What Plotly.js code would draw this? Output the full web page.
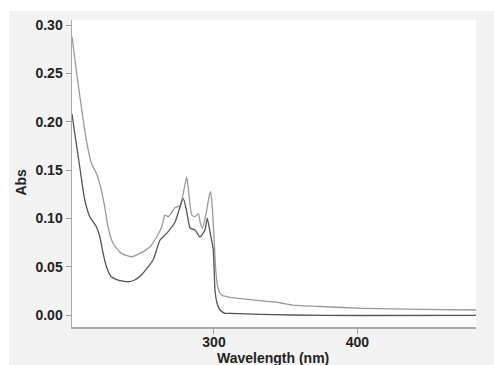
<!DOCTYPE html>
<html>
<head>
<meta charset="utf-8">
<script src="https://cdn.plot.ly/plotly-3.0.1.min.js"></script>
<style>
html, body { margin: 0; padding: 0; background: #ffffff; width: 494px; height: 365px; overflow: hidden; }
#chart { position: absolute; left: 9px; top: 11px; width: 485px; height: 354px; }
</style>
</head>
<body>
<div id="chart"></div>
<script>
// Upper (light grey) spectrum
const upperWavelength = [201, 204, 207.5, 211, 214.5, 218, 221.5, 223.8, 226.1, 229.6, 235.4, 242.4, 248.4, 255.4, 260.1, 263.6, 265.8, 268.1, 272.8, 276.3, 278.6, 281.0, 282.6, 284.5, 286.8, 289.1, 290.5, 292.0, 294.5, 296.5, 297.7, 299.0, 300.2, 301.3, 302.5, 304.0, 306.0, 309.0, 311.1, 325, 346, 355, 374, 404, 444, 483];
const upperAbs = [0.288, 0.253, 0.2155, 0.181, 0.157, 0.1466, 0.129, 0.112, 0.0913, 0.0742, 0.0638, 0.0603, 0.0638, 0.0707, 0.081, 0.0913, 0.1034, 0.1017, 0.111, 0.113, 0.126, 0.1428, 0.124, 0.1034, 0.1017, 0.105, 0.095, 0.090, 0.105, 0.122, 0.1276, 0.108, 0.075, 0.045, 0.030, 0.023, 0.020, 0.019, 0.0183, 0.016, 0.0127, 0.0103, 0.0088, 0.0069, 0.0059, 0.0052];

// Lower (dark grey) spectrum
const lowerWavelength = [201, 202.9, 206.4, 209.9, 213.4, 218.0, 220.4, 222.7, 225.0, 228.4, 233.1, 240.1, 244.7, 249.4, 257.5, 262.4, 267.0, 272.8, 275.5, 278.6, 281.0, 283.3, 286.8, 290.2, 293.7, 295.3, 297.2, 299.5, 300.7, 302.1, 304.2, 307.7, 311.1, 332, 353, 402, 483];
const lowerAbs = [0.208, 0.188, 0.1534, 0.119, 0.1017, 0.0913, 0.081, 0.0638, 0.050, 0.0396, 0.0362, 0.0344, 0.0362, 0.0414, 0.0569, 0.0776, 0.0845, 0.096, 0.108, 0.1207, 0.1069, 0.090, 0.0879, 0.0807, 0.0879, 0.1003, 0.0862, 0.0672, 0.0259, 0.0124, 0.0052, 0.0018, 0.0016, 0.0007, 0.0, -0.0005, -0.0003];

const xTicks = [300, 400];
const yTicks = [0.00, 0.05, 0.10, 0.15, 0.20, 0.25, 0.30];

const traces = [
  { x: upperWavelength, y: upperAbs, mode: 'lines', line: { color: '#9a9a9a', width: 1.3, shape: 'spline', smoothing: 0.5 }, hoverinfo: 'skip' },
  { x: lowerWavelength, y: lowerAbs, mode: 'lines', line: { color: '#555555', width: 1.3, shape: 'spline', smoothing: 0.5 }, hoverinfo: 'skip' }
];

const tickFont = { family: 'Liberation Sans, Arial, sans-serif', size: 14, color: '#222222', weight: 'bold' };

const layout = {
  width: 485, height: 354,
  margin: { l: 63, r: 18, t: 9, b: 38, pad: 0 },
  paper_bgcolor: '#f3f3f3',
  plot_bgcolor: '#ffffff',
  showlegend: false,
  xaxis: {
    range: [201.0, 482.7],
    tickvals: xTicks,
    ticktext: xTicks.map(String),
    ticks: 'outside', ticklen: 5, tickwidth: 1, tickcolor: '#999999',
    ticklabelstandoff: -3,
    showline: true, linecolor: '#aaaaaa', linewidth: 1.5,
    showgrid: false, zeroline: false,
    tickfont: tickFont
  },
  yaxis: {
    range: [-0.0124, 0.3052],
    tickvals: yTicks,
    ticktext: yTicks.map(v => v.toFixed(2)),
    ticks: 'outside', ticklen: 5, tickwidth: 1, tickcolor: '#999999',
    showline: true, linecolor: '#aaaaaa', linewidth: 1.5,
    showgrid: false, zeroline: false,
    tickfont: tickFont
  },
  annotations: [
    { text: 'Abs', xref: 'paper', yref: 'paper', x: -0.1262, y: 0.4704, xanchor: 'center', yanchor: 'middle', textangle: -90, showarrow: false, font: { family: 'Liberation Sans, Arial, sans-serif', size: 14, color: '#222222', weight: 'bold' } },
    { text: 'Wavelength (nm)', xref: 'paper', yref: 'paper', x: 0.4975, y: -0.1026, xanchor: 'center', yanchor: 'middle', showarrow: false, font: { family: 'Liberation Sans, Arial, sans-serif', size: 14, color: '#222222', weight: 'bold' } }
  ]
};

Plotly.newPlot('chart', traces, layout, { displayModeBar: false, staticPlot: true });
</script>
</body>
</html>
